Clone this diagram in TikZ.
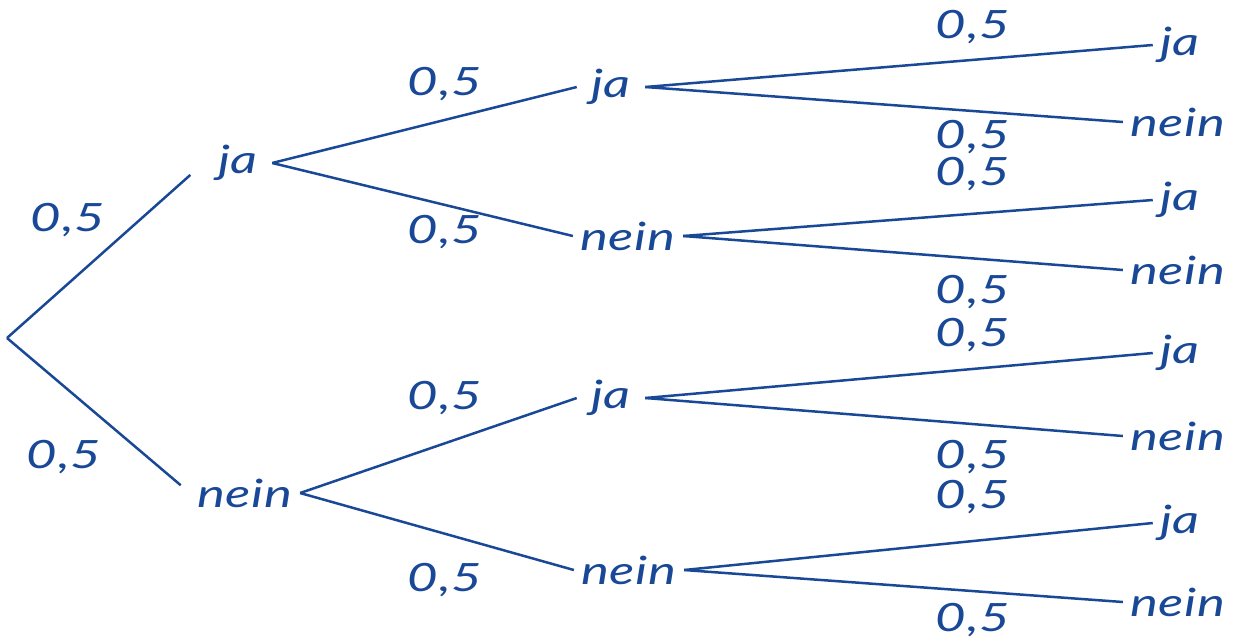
\documentclass[tikz,border=0pt]{standalone}
\usepackage{fontspec}
\setmainfont{Lato}
\newfontfamily\handfont[FakeStretch=1.35,LetterSpace=2]{Lato Italic}
\definecolor{ink}{RGB}{25,72,150}
\begin{document}
\begin{tikzpicture}[x=0.5pt,y=-0.5pt,
  every node/.style={text=ink,font=\fontsize{19.5}{22}\handfont},
  lbl/.style={inner sep=3.5pt},
  jlbl/.style={inner sep=3.5pt,inner xsep=7pt},
  prob/.style={inner sep=0pt},
  edge/.style={draw=ink,line width=1.25pt}]
\useasboundingbox (0,0) rectangle (1234,638);
\coordinate (root) at (7,338);
% level 1
\node[jlbl] (j1) at (238,163) {ja};
\node[lbl] (n1) at (245,493) {nein};
% level 2
\node[jlbl] (j2) at (611,87) {ja};
\node[lbl] (n2) at (628,236) {nein};
\node[jlbl] (j3) at (611,398) {ja};
\node[lbl] (n3) at (629,570) {nein};
% level 3
\node[lbl] (a1) at (1180,45) {ja};
\node[lbl] (b1) at (1178,122) {nein};
\node[lbl] (a2) at (1180,200) {ja};
\node[lbl] (b2) at (1178,270) {nein};
\node[lbl] (a3) at (1180,353) {ja};
\node[lbl] (b3) at (1178,436) {nein};
\node[lbl] (a4) at (1180,523) {ja};
\node[lbl] (b4) at (1178,602) {nein};
% edges
\draw[edge,shorten >=9pt] (root) -- (j1.west);
\draw[edge,shorten >=6pt] (root) -- (n1.west);
\draw[edge] (j1.east) -- (j2.west);
\draw[edge] (j1.east) -- (n2.west);
\draw[edge] (n1.east) -- (j3.west);
\draw[edge] (n1.east) -- (n3.west);
\draw[edge] (j2.east) -- (a1.west);
\draw[edge] (j2.east) -- (b1.west);
\draw[edge] (n2.east) -- (a2.west);
\draw[edge] (n2.east) -- (b2.west);
\draw[edge] (j3.east) -- (a3.west);
\draw[edge] (j3.east) -- (b3.west);
\draw[edge] (n3.east) -- (a4.west);
\draw[edge] (n3.east) -- (b4.west);
% probabilities
\node[prob] (p1) at (68,220) {0,5};
\node[prob] (p2) at (64,457) {0,5};
\node[prob] (p3) at (445,84) {0,5};
\node[prob] (p4) at (445,232) {0,5};
\node[prob] (p5) at (445,398) {0,5};
\node[prob] (p6) at (445,580) {0,5};
\node[prob] (p7) at (973,27) {0,5};
\node[prob] (p8) at (973,137) {0,5};
\node[prob] (p9) at (973,174) {0,5};
\node[prob] (p10) at (973,292) {0,5};
\node[prob] (p11) at (973,335) {0,5};
\node[prob] (p12) at (973,457) {0,5};
\node[prob] (p13) at (973,497) {0,5};
\node[prob] (p14) at (973,620) {0,5};
\end{tikzpicture}
\end{document}
